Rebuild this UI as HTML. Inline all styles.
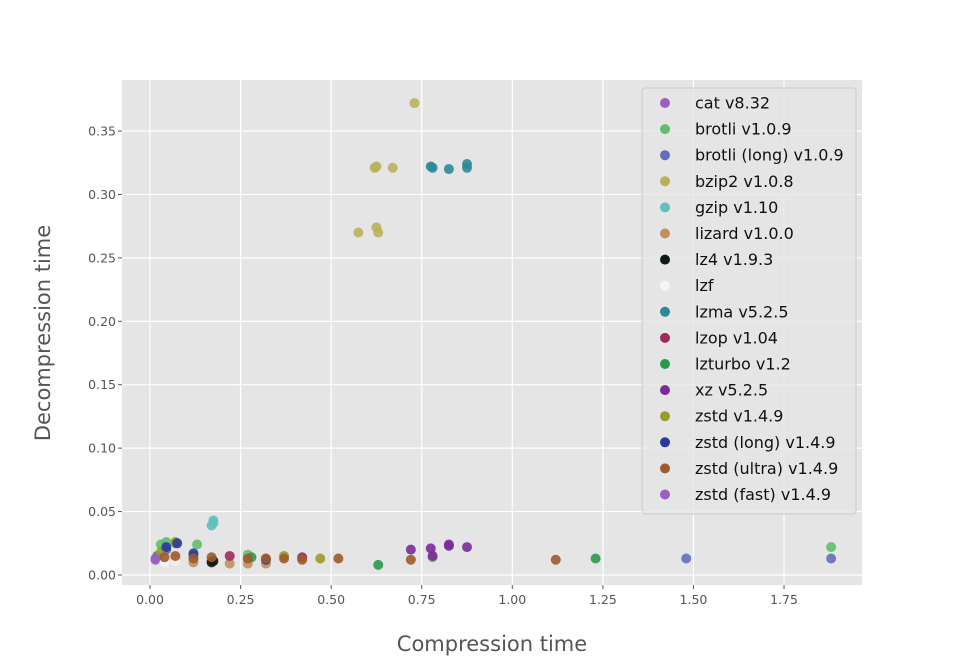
<!DOCTYPE html>
<html><head><meta charset="utf-8"><style>
body{margin:0;background:#fff;}
svg{display:block;font-family:"DejaVu Sans","Liberation Sans",sans-serif;}
</style></head><body>
<svg id="chart" width="960" height="660"></svg>
<script>
const xTicks=[0,0.25,0.5,0.75,1,1.25,1.5,1.75];
const xTickLabels=["0.00","0.25","0.50","0.75","1.00","1.25","1.50","1.75"];
const yTicks=[0,0.05,0.1,0.15,0.2,0.25,0.3,0.35];
const yTickLabels=["0.00","0.05","0.10","0.15","0.20","0.25","0.30","0.35"];
const seriesNames=["cat v8.32","brotli v1.0.9","brotli (long) v1.0.9","bzip2 v1.0.8","gzip v1.10","lizard v1.0.0","lz4 v1.9.3","lzf","lzma v5.2.5","lzop v1.04","lzturbo v1.2","xz v5.2.5","zstd v1.4.9","zstd (long) v1.4.9","zstd (ultra) v1.4.9","zstd (fast) v1.4.9"];
const seriesColors=["#9a5fc0","#5fbf6c","#5f6fbf","#b9b05a","#60c0bd","#c09060","#0d1a10","#f5f5f5","#2a8a98","#a02a5c","#2a9a4a","#7a2a9a","#9a9a2a","#2a3a9a","#a05a2a","#9a5fc0"];
const catX=[0.015];const catY=[0.012];
const brotliX=[0.03,0.045,0.07,0.13,0.27,0.78,1.88];const brotliY=[0.024,0.026,0.025,0.024,0.016,0.014,0.022];
const brotliLongX=[0.045,0.12,1.48,1.88];const brotliLongY=[0.02,0.015,0.013,0.013];
const bzip2X=[0.575,0.625,0.63,0.625,0.62,0.67,0.73];const bzip2Y=[0.27,0.274,0.27,0.322,0.321,0.321,0.372];
const gzipX=[0.17,0.175,0.175];const gzipY=[0.039,0.043,0.041];
const lizardX=[0.07,0.12,0.17,0.22,0.27,0.32,0.27,0.32];const lizardY=[0.012,0.01,0.011,0.009,0.009,0.009,0.013,0.013];
const lz4X=[0.17,0.175];const lz4Y=[0.01,0.011];
const lzfX=[0.04,0.07];const lzfY=[0.01,0.011];
const lzmaX=[0.775,0.78,0.825,0.875,0.875];const lzmaY=[0.322,0.321,0.32,0.321,0.324];
const lzopX=[0.22,0.42];const lzopY=[0.015,0.014];
const lzturboX=[0.02,0.28,0.63,1.23];const lzturboY=[0.015,0.014,0.008,0.013];
const xzX=[0.72,0.775,0.78,0.825,0.825,0.875];const xzY=[0.02,0.021,0.015,0.023,0.024,0.022];
const zstdX=[0.03,0.07,0.37,0.47];const zstdY=[0.018,0.026,0.015,0.013];
const zstdLongX=[0.045,0.075,0.12,0.32];const zstdLongY=[0.022,0.025,0.017,0.012];
const zstdUltraX=[0.04,0.07,0.12,0.17,0.27,0.32,0.37,0.42,0.52,0.72,1.12];const zstdUltraY=[0.014,0.015,0.013,0.014,0.013,0.013,0.013,0.012,0.013,0.012,0.012];
const zstdFastX=[0.015];const zstdFastY=[0.013];
const seriesX=[catX,brotliX,brotliLongX,bzip2X,gzipX,lizardX,lz4X,lzfX,lzmaX,lzopX,lzturboX,xzX,zstdX,zstdLongX,zstdUltraX,zstdFastX];
const seriesY=[catY,brotliY,brotliLongY,bzip2Y,gzipY,lizardY,lz4Y,lzfY,lzmaY,lzopY,lzturboY,xzY,zstdY,zstdLongY,zstdUltraY,zstdFastY];

const NS="http://www.w3.org/2000/svg";
const svg=document.getElementById('chart');
const L=122,R=862,T=80,B=585;
const xs=v=>150+v*362.3;
const ys=v=>575-v*1268.6;
function mk(tag,attrs,parent){const e=document.createElementNS(NS,tag);for(const k in attrs)e.setAttribute(k,attrs[k]);(parent||svg).appendChild(e);return e;}
const bg=mk('rect',{x:L,y:T,width:R-L,height:B-T,fill:'#e5e5e5'});


xTicks.forEach((t,i)=>{
  const g=mk('line',{x1:xs(t),x2:xs(t),y1:T,y2:B,stroke:'#fff','stroke-width':1.2});
  
  
  mk('line',{x1:xs(t),x2:xs(t),y1:B,y2:B+4,stroke:'#555'});
  const tx=mk('text',{x:xs(t),y:B+19,'text-anchor':'middle','font-size':12.5,fill:'#555'});
  tx.textContent=xTickLabels[i];
  
  
});
yTicks.forEach((t,i)=>{
  const g=mk('line',{x1:L,x2:R,y1:ys(t),y2:ys(t),stroke:'#fff','stroke-width':1.2});
  
  
  mk('line',{x1:L-4,x2:L,y1:ys(t),y2:ys(t),stroke:'#555'});
  const tx=mk('text',{x:L-6,y:ys(t)+4.5,'text-anchor':'end','font-size':12.5,fill:'#555'});
  tx.textContent=yTickLabels[i];
  
  
});
seriesX.forEach((xa,s)=>{
  const g=mk('g',{});
  
  
  xa.forEach((x,i)=>{
    const c=mk('circle',{cx:xs(x),cy:ys(seriesY[s][i]),r:5,fill:seriesColors[s],'fill-opacity':0.9},g);
    
    
  });
});
const xt=mk('text',{x:492,y:651,'text-anchor':'middle','font-size':21,fill:'#555'});
xt.textContent='Compression time';


const yt=mk('text',{x:50,y:333,'text-anchor':'middle','font-size':21,fill:'#555',transform:'rotate(-90 50 333)'});
yt.textContent='Decompression time';


const lg=mk('g',{});


mk('rect',{x:642,y:88,width:214,height:426,rx:3,fill:'#e5e5e5','fill-opacity':0.8,stroke:'#ccc'},lg);
seriesNames.forEach((n,i)=>{
  const y=103+i*26.1;
  const e=mk('g',{},lg);
  
  
  mk('circle',{cx:665,cy:y,r:5,fill:seriesColors[i]},e);
  const t=mk('text',{x:695,y:y+5.5,'font-size':16,fill:'#111'},e);
  t.textContent=n;
});
</script>
</body></html>
